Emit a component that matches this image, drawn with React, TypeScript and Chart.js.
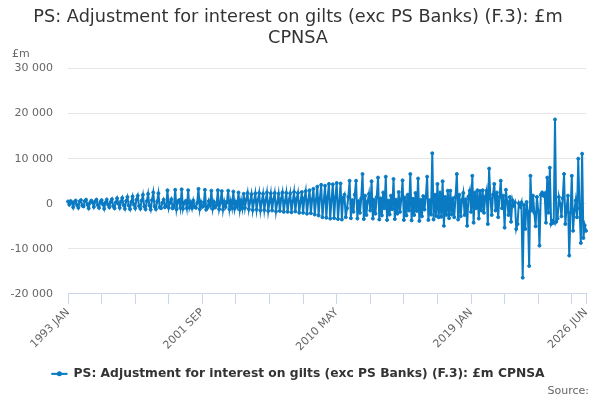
import { useEffect, useRef } from 'react';
import { Chart, registerables } from 'chart.js';
import type { Plugin } from 'chart.js';

Chart.register(...registerables);

Chart.defaults.font.family = '"DejaVu Sans", sans-serif';

const TITLE = ['PS: Adjustment for interest on gilts (exc PS Banks) (F.3): £m', 'CPNSA'];
const SERIES_LABEL = 'PS: Adjustment for interest on gilts (exc PS Banks) (F.3): £m CPNSA';
const LINE_COLOR = '#0a7ac3';

const MONTHS = ['JAN', 'FEB', 'MAR', 'APR', 'MAY', 'JUN', 'JUL', 'AUG', 'SEP', 'OCT', 'NOV', 'DEC'];
const FIRST_YEAR = 1993;

// tick labels shown on the x axis
const X_LABELS = ['1993 JAN', '2001 SEP', '2010 MAY', '2019 JAN', '2026 JUN'];
const Y_TICKS = [-20000, -10000, 0, 10000, 20000, 30000];

// £m, monthly
const values1993to1999 = [
  500, -200, 600, 300, -800, 400, 700, -300, -900, 500, 800, -400,
  -600, 600, 900, -200, -1000, 200, 700, 300, -700, 500, 900, -300,
  -900, 400, 800, -100, -1100, 300, 900, -200, -800, 400, 1000, -500,
  -1000, 300, 1200, 0, -900, 500, 1300, -300, -1100, 600, 1500, -400,
  -1200, 400, 1600, -200, -1000, 900, 1800, -500, -1100, 700, 2000, -600,
  -1200, 600, 2200, -400, -1300, 800, 2500, -600, -1200, 500, 2300, -800,
  -1000, 200, 900, -800, -500, 3000, -900, 300, 1000, -1000, -600, 3100,
];

const values2000to2009 = [
  -1200, 500, 800, -900, 3200, -1100, 200, 600, -1000, 3000, -800, 300,
  -1000, 700, -600, -900, 200, 3300, -1200, 400, -700, -500, 3100, -1300,
  -900, 600, -400, 2900, -1100, 400, -800, -300, 3000, -1200, 200, 2800,
  -1300, 500, -700, 300, 2900, -1200, 600, -900, 2700, -1100, 400, -600,
  2500, -1300, 700, -1000, 2200, -900, 900, 2400, -1200, 500, 2100, -1400,
  600, 2300, -1300, 800, 2400, -1500, 500, 2200, -1400, 700, 2500, -1600,
  400, 2300, -1500, 900, 2400, -1700, 300, 2200, -1600, 1000, 2500, -1800,
  500, 2400, -1800, 800, 2300, -1900, 600, 2600, -1700, 1100, 2400, -2000,
  400, 2600, -2000, 1200, 2800, -2200, 700, 3000, -2100, 900, 3300, -2400,
  800, 3800, -2600, 1200, 4200, -3000, 600, 4000, -3100, 1500, 4400, -3300,
];

const values2010to2019 = [
  900, 4300, -3200, 1400, 4600, -3400, 500, 4500, -3500, 1300, 2000, -3000,
  -1000, 1500, 5100, -3200, 800, -1800, 2000, 5100, -3300, 600, -2000, 1200,
  6600, -3400, 1800, -2500, 500, 2200, -1500, 5000, -3300, 900, -2200, 1500,
  5800, -3500, 1200, -2600, 2500, -1000, 6000, -3600, 700, -2400, 1800, -1200,
  5500, -3400, 900, -2200, 2600, -1800, 1000, 5200, -3600, 1400, -2600, 2000,
  -1500, 6600, -3700, 1100, -2500, 2400, -1600, 5600, -3800, 900, -2800, 1700,
  -1300, 1500, 6000, -3600, 800, -2400, 11200, -3500, 2000, -2700, 4400, -3000,
  2500, -2900, 5000, -4900, 1500, -2500, 2900, -3200, 2900, -2400, 1200, -3000,
  1500, 6600, -3500, 2000, -2800, 800, 2400, -2500, 1000, -4900, 1600, 2900,
  -1800, 6200, -4200, 2500, -1000, 3000, -3300, 2800, -1500, 3000, -2000, 1500,
];

const values2020to2026 = [
  2900, -4500, 7800, 1200, -2500, 2000, 4400, -1500, 2500, -3000, 1500, 5100,
  -1000, 1800, -5300, 3100, 500, -2500, 1500, -4000, 800, -400, 300, -5600,
  -4500, 100, -600, 300, -16400, -300, -5600, 400, -1800, -13800, 6200, -1500,
  1800, -2000, -5000, 1500, -1500, -9300, 2000, 2500, 1800, 2300, -4200, 5800,
  -2000, 8000, -4500, -3800, -4200, 18700, -4000, -3300, 1500, 0, -2800, 1200,
  6600, -4500, -900, 1800, -11500, -2000, 6200, -6000, -1500, 700, -3000, 10000,
  -1000, -8700, 11100, -7600, -4800, -6000,
];

const values = [...values1993to1999, ...values2000to2009, ...values2010to2019, ...values2020to2026];
const months = values.map((_, i) => `${FIRST_YEAR + Math.floor(i / 12)} ${MONTHS[i % 12]}`);

const formatThousands = (v: number) => {
  const s = String(Math.abs(v)).replace(/\B(?=(\d{3})+(?!\d))/g, ' ');
  return v < 0 ? `-${s}` : s;
};

const extraText: Plugin<'line'> = {
  id: 'extraText',
  afterDraw(chart) {
    const { ctx, chartArea } = chart;
    ctx.save();
    ctx.font = '11px "DejaVu Sans", sans-serif';
    ctx.fillStyle = '#666666';
    ctx.textBaseline = 'middle';
    ctx.textAlign = 'left';
    ctx.fillText('£m', 12, chartArea.top - 14);
    ctx.textAlign = 'right';
    ctx.fillText('Source:', chart.width - 11, chart.height - 9);

    // line-with-marker legend symbol
    const box = chart.legend?.legendHitBoxes?.[0];
    if (box) {
      const cy = box.top + box.height / 2;
      ctx.strokeStyle = LINE_COLOR;
      ctx.lineWidth = 2;
      ctx.beginPath();
      ctx.moveTo(box.left, cy);
      ctx.lineTo(box.left + 16, cy);
      ctx.stroke();
      ctx.fillStyle = LINE_COLOR;
      ctx.beginPath();
      ctx.arc(box.left + 8, cy, 2.5, 0, Math.PI * 2);
      ctx.fill();
    }
    ctx.restore();
  },
};

export default function App() {
  const canvasRef = useRef<HTMLCanvasElement>(null);
  const chartRef = useRef<Chart | null>(null);

  useEffect(() => {
    if (!canvasRef.current) return;
    const ctx = canvasRef.current.getContext('2d');
    if (!ctx) return;

    chartRef.current?.destroy();

    const lastIndex = months.length - 1;

    chartRef.current = new Chart(ctx, {
      type: 'line',
      data: {
        labels: months,
        datasets: [
          {
            label: SERIES_LABEL,
            data: values,
            borderColor: LINE_COLOR,
            backgroundColor: LINE_COLOR,
            borderWidth: 2,
            pointRadius: 1.5,
            pointBorderWidth: 1,
            pointBorderColor: LINE_COLOR,
            pointBackgroundColor: LINE_COLOR,
            tension: 0,
            fill: false,
          },
        ],
      },
      options: {
        animation: false,
        responsive: true,
        maintainAspectRatio: false,
        layout: { padding: { left: 10, right: 14, top: 4, bottom: 10 } },
        plugins: {
          title: {
            display: true,
            text: TITLE,
            color: '#333333',
            font: { size: 17.7, weight: 'normal', lineHeight: 1.2 },
            padding: { top: 3, bottom: 19 },
          },
          legend: {
            position: 'bottom',
            labels: {
              color: '#333333',
              font: { size: 12.3, weight: 'bold' },
              usePointStyle: true,
              pointStyle: 'line',
              pointStyleWidth: 16,
              padding: 12,
            },
          },
          tooltip: { enabled: false },
        },
        scales: {
          x: {
            type: 'category',
            offset: false,
            afterFit: (scale) => {
              // let the rotated first label hang left like the original
              scale.paddingLeft = 0;
            },
            grid: {
              drawOnChartArea: false,
              tickLength: 10,
              color: (c) => (c.index % 26 === 0 || c.index === lastIndex ? '#ccd6eb' : 'rgba(0,0,0,0)'),
            },
            border: { color: '#ccd6eb' },
            ticks: {
              autoSkip: false,
              minRotation: 45,
              maxRotation: 45,
              color: '#666666',
              font: { size: 11 },
              padding: 2,
              callback: (_v, index) => (X_LABELS.includes(months[index]) ? months[index] : ''),
            },
          },
          y: {
            min: Y_TICKS[0],
            max: Y_TICKS[Y_TICKS.length - 1],
            afterBuildTicks: (scale) => {
              scale.ticks = Y_TICKS.map((value) => ({ value }));
            },
            afterFit: (scale) => {
              scale.width = 58;
            },
            grid: { color: '#e6e6e6', drawTicks: false },
            border: { display: false },
            ticks: {
              color: '#666666',
              font: { size: 11 },
              padding: 15,
              callback: (v) => formatThousands(Number(v)),
            },
          },
        },
      },
      plugins: [extraText],
    });

    return () => {
      chartRef.current?.destroy();
      chartRef.current = null;
    };
  }, []);

  return (
    <div style={{ position: 'fixed', left: 0, top: 0, width: 600, height: 400, background: '#fff' }}>
      <canvas ref={canvasRef} />
    </div>
  );
}
